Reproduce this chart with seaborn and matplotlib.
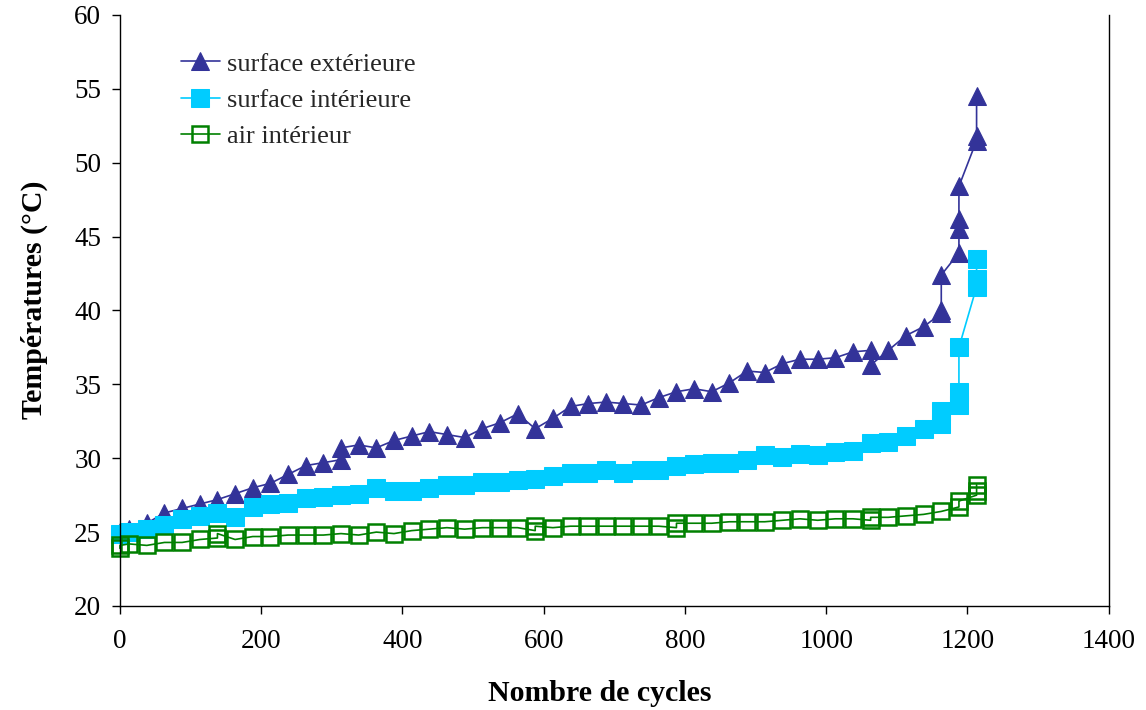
import matplotlib
matplotlib.use("Agg")
import matplotlib.pyplot as plt
import seaborn as sns
import pandas as pd

# Température de surface extérieure (°C) en fonction du nombre de cycles
cycles_ext = [0, 13, 38, 63, 88, 113, 138, 163, 188, 213, 238, 263, 288, 313, 313,
              338, 363, 388, 413, 438, 463, 488, 513, 538, 563, 588, 613, 638, 663,
              688, 713, 738, 763, 788, 813, 838, 863, 888, 913, 938, 963, 988, 1013,
              1038, 1063, 1063, 1088, 1113, 1138, 1163, 1163, 1163, 1188, 1188, 1188,
              1188, 1213, 1213, 1213]
temp_ext = [25.0, 25.2, 25.6, 26.3, 26.6, 26.9, 27.2, 27.6, 28.0, 28.3, 28.9, 29.5,
            29.7, 29.9, 30.7, 30.9, 30.7, 31.2, 31.5, 31.8, 31.6, 31.4, 32.0, 32.4,
            33.0, 32.0, 32.7, 33.5, 33.7, 33.8, 33.7, 33.6, 34.1, 34.5, 34.7, 34.5,
            35.1, 35.9, 35.8, 36.4, 36.7, 36.7, 36.8, 37.2, 37.3, 36.3, 37.3, 38.3,
            38.9, 39.8, 40.0, 42.4, 43.9, 45.5, 46.2, 48.4, 51.5, 51.8, 54.5]

# Température de surface intérieure (°C)
cycles_int = [0, 13, 38, 63, 88, 113, 138, 163, 188, 213, 238, 263, 288, 313, 338,
              363, 388, 413, 438, 463, 488, 513, 538, 563, 588, 613, 638, 663, 688,
              713, 738, 763, 788, 813, 838, 863, 888, 913, 938, 963, 988, 1013, 1038,
              1063, 1088, 1113, 1138, 1163, 1163, 1188, 1188, 1188, 1213, 1213, 1213]
temp_int = [24.9, 25.0, 25.2, 25.5, 25.9, 26.1, 26.3, 26.0, 26.7, 26.9, 27.0, 27.3,
            27.4, 27.5, 27.6, 28.0, 27.8, 27.8, 28.0, 28.2, 28.2, 28.4, 28.4, 28.5,
            28.6, 28.8, 29.0, 29.0, 29.2, 29.0, 29.2, 29.2, 29.5, 29.6, 29.7, 29.7,
            29.9, 30.2, 30.1, 30.3, 30.2, 30.4, 30.5, 31.0, 31.1, 31.5, 32.0, 32.3,
            33.2, 33.6, 34.5, 37.5, 41.6, 42.1, 43.5]

# Température de l'air intérieur (°C)
cycles_air = [0, 0, 13, 38, 63, 88, 113, 138, 138, 163, 188, 213, 238, 263, 288,
              313, 338, 363, 388, 413, 438, 463, 488, 513, 538, 563, 588, 588, 613,
              638, 663, 688, 713, 738, 763, 788, 788, 813, 838, 863, 888, 913, 938,
              963, 988, 1013, 1038, 1063, 1063, 1088, 1113, 1138, 1163, 1188, 1188,
              1213, 1213, 1213]
temp_air = [23.9, 24.1, 24.2, 24.1, 24.3, 24.3, 24.5, 24.6, 24.9, 24.5, 24.7, 24.7,
            24.8, 24.8, 24.8, 24.9, 24.8, 25.0, 24.9, 25.1, 25.2, 25.3, 25.2, 25.3,
            25.3, 25.3, 25.1, 25.4, 25.3, 25.4, 25.4, 25.4, 25.4, 25.4, 25.4, 25.3,
            25.6, 25.6, 25.6, 25.7, 25.7, 25.7, 25.8, 25.9, 25.8, 25.9, 25.9, 25.8,
            26.0, 26.0, 26.1, 26.2, 26.4, 26.7, 27.1, 27.5, 27.8, 28.2]

labels = ["surface extérieure", "surface intérieure", "air intérieur"]
x_ticks = [0, 200, 400, 600, 800, 1000, 1200, 1400]
y_ticks = [20, 25, 30, 35, 40, 45, 50, 55, 60]

sns.set_style("ticks")
plt.rcParams["font.family"] = ["Liberation Serif", "DejaVu Serif"]
plt.rcParams["axes.labelcolor"] = "black"

fig = plt.figure(figsize=(11.46, 7.10), dpi=100)
ax = fig.add_axes([0.1047, 0.1465, 0.8627, 0.8325])

df_ext = pd.DataFrame({"x": cycles_ext, "y": temp_ext})
df_int = pd.DataFrame({"x": cycles_int, "y": temp_int})
df_air = pd.DataFrame({"x": cycles_air, "y": temp_air})

sns.lineplot(data=df_ext, x="x", y="y", ax=ax, estimator=None, sort=False,
             color="#333399", lw=1.2, marker="^", markersize=13,
             markeredgecolor="#333399", markerfacecolor="#333399",
             label=labels[0], clip_on=False)
sns.lineplot(data=df_int, x="x", y="y", ax=ax, estimator=None, sort=False,
             color="#00CCFF", lw=1.2, marker="s", markersize=12.5,
             markeredgecolor="#00CCFF", markerfacecolor="#00CCFF",
             label=labels[1], clip_on=False)
sns.lineplot(data=df_air, x="x", y="y", ax=ax, estimator=None, sort=False,
             color="#008000", lw=1.2, marker="s", markersize=11.5,
             markeredgecolor="#008000", markerfacecolor="none",
             markeredgewidth=1.8, label=labels[2], clip_on=False)

ax.set_xlim(0, 1400)
ax.set_ylim(20, 60)
ax.set_xticks(x_ticks)
ax.set_yticks(y_ticks)
ax.tick_params(axis="both", direction="out", length=5.5, width=1,
               color="black", labelsize=19.5, labelcolor="black")
ax.tick_params(axis="x", pad=11)
ax.tick_params(axis="y", pad=8)

for side in ["left", "bottom", "right"]:
    ax.spines[side].set_visible(True)
    ax.spines[side].set_color("black")
    ax.spines[side].set_linewidth(1)
ax.spines["top"].set_visible(False)

ax.set_xlabel("Nombre de cycles", fontsize=21.5, fontweight="bold", labelpad=19)
ax.set_ylabel("Températures (°C)", fontsize=21.5, fontweight="bold", labelpad=19)
ax.xaxis.label.set_x(0.485)
ax.yaxis.label.set_y(0.518)

leg = ax.legend(loc="upper left", bbox_to_anchor=(0.062, 0.937), frameon=False,
                fontsize=19, handlelength=1.45, handletextpad=0.3,
                labelspacing=0.48, borderaxespad=0, borderpad=0)

fig.savefig("out.png", dpi=100)
